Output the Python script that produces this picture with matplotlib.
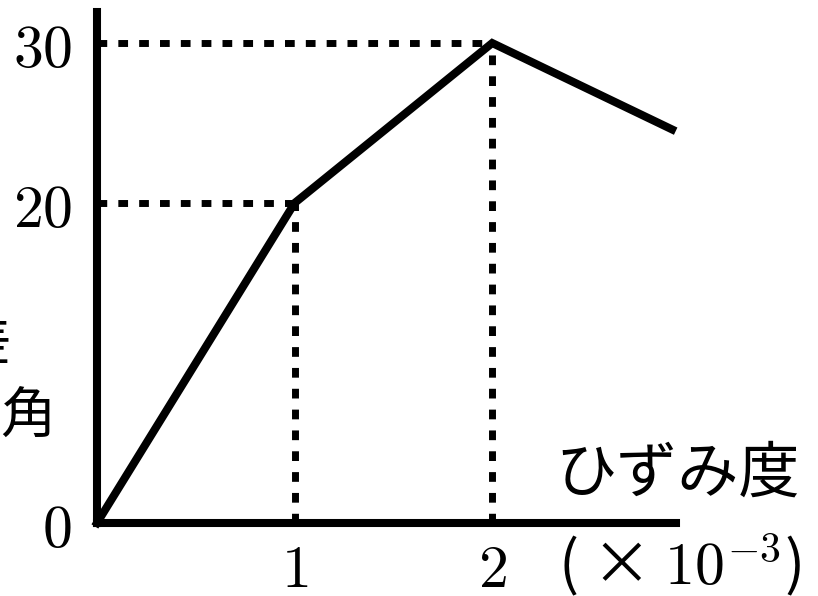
import matplotlib
matplotlib.use("Agg")
import matplotlib.pyplot as plt

plt.rcParams['font.family'] = ['Noto Sans CJK JP', 'DejaVu Sans']
plt.rcParams['mathtext.fontset'] = 'cm'

# data
strain = [0, 1, 2, 2.91]
stress = [0, 20, 30, 24.6]
xticks = [1, 2]
xticklabels = ['$1$', '$2$']
yticks = [0, 20, 30]
yticklabels = ['$0$', '$20$', '$30$']
xlabel_text = 'ひずみ度'
xunit_text = '( × $10^{-3}$)'
ylabel_top = '応力差'
ylabel_bottom = '角'

W, H = 818, 596
fig = plt.figure(figsize=(W / 100, H / 100), dpi=100)
x0, x1 = 97, 676
y0, y1 = 523, 12
ax = fig.add_axes([x0 / W, (H - y0) / H, (x1 - x0) / W, (y0 - y1) / H])
ax.set_xlim(0, 2.93)
ax.set_ylim(0, 31.94)

for s in ['top', 'right']:
    ax.spines[s].set_visible(False)
for s in ['left', 'bottom']:
    ax.spines[s].set_linewidth(5.8)
    ax.spines[s].set_color('black')

dot = dict(color='black', lw=5.0, linestyle=(0, (1.4, 1.6)), dash_capstyle='butt', clip_on=False)
# guide lines
ax.plot([0, strain[1]], [stress[1], stress[1]], **dot)
ax.plot([0, strain[2]], [stress[2], stress[2]], **dot)
ax.plot([strain[1], strain[1]], [0, stress[1]], **dot)
ax.plot([strain[2], strain[2]], [0, stress[2]], **dot)

ax.plot(strain, stress, color='black', lw=5.8, solid_joinstyle='miter', clip_on=False)

ax.set_xticks(xticks)
ax.set_xticklabels(xticklabels, fontsize=43)
ax.set_yticks(yticks)
ax.set_yticklabels(yticklabels, fontsize=43)
ax.tick_params(axis='both', length=0)
ax.tick_params(axis='x', pad=12)
ax.tick_params(axis='y', pad=18)

fig.text(555 / W, 1 - 474 / H, xlabel_text, fontsize=44, ha='left', va='center')
fig.text(558 / W, 1 - 565 / H, xunit_text, fontsize=43, ha='left', va='center')
fig.text(12 / W, 1 - 345 / H, ylabel_top, fontsize=40, ha='right', va='center')
fig.text(28 / W, 1 - 418 / H, ylabel_bottom, fontsize=40, ha='center', va='center')

fig.savefig('out.png', dpi=100)
